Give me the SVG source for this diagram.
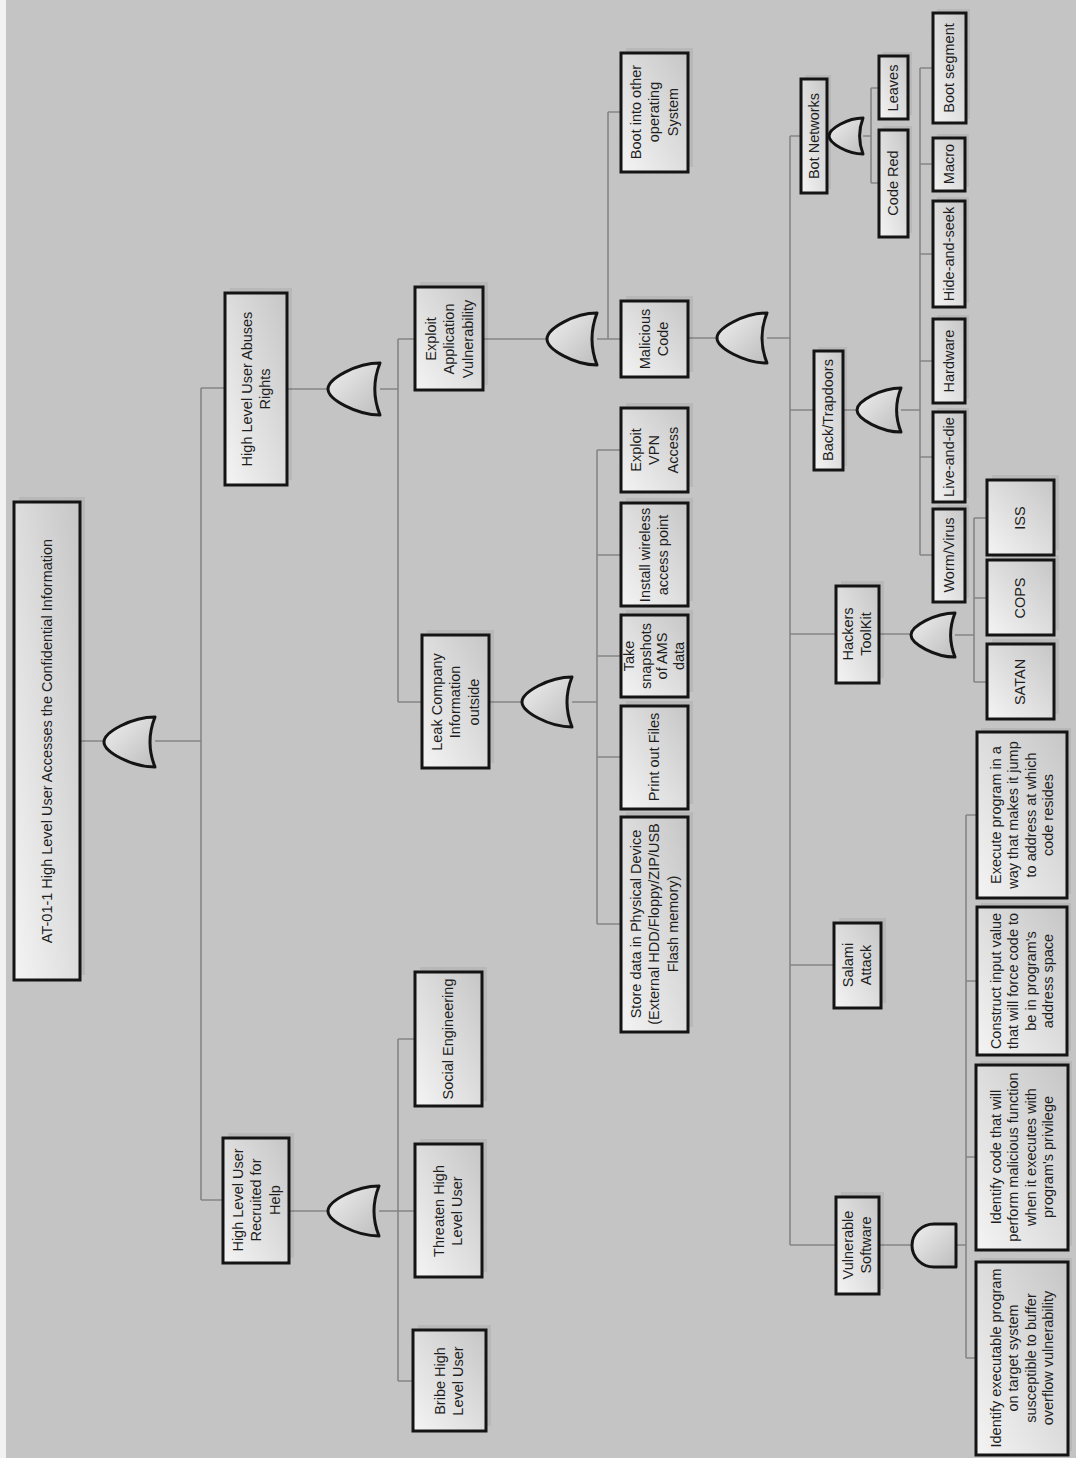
<svg xmlns="http://www.w3.org/2000/svg" width="1076" height="1458" viewBox="0 0 1076 1458">
<defs>
<linearGradient id="bg" x1="0" y1="1" x2="1" y2="0">
<stop offset="0" stop-color="#f4f4f4"/>
<stop offset="1" stop-color="#c6c6c6"/>
</linearGradient>
<linearGradient id="gg" x1="0" y1="0" x2="1" y2="1">
<stop offset="0" stop-color="#f0f0f0"/>
<stop offset="1" stop-color="#bdbdbd"/>
</linearGradient>
</defs>
<style>
.box{fill:url(#bg);stroke:#141414;stroke-width:3}
.sh{fill:#000;opacity:0.06}
.gate{fill:url(#gg);stroke:#141414;stroke-width:3;stroke-linejoin:round}
.c{fill:none;stroke:#858585;stroke-width:1.6}
.t{font-family:"Liberation Sans",Arial,sans-serif;font-size:14.5px;fill:#1e1e1e;text-anchor:middle}
</style>
<rect x="0" y="0" width="1076" height="1458" fill="#c4c4c4"/>
<rect x="0" y="0" width="6" height="1458" fill="#f2f2f2"/>

<g id="connectors">
<path class="c" d="M80,741H104M155,741H201M201,388V1200M201,388H225M201,1200H223"/>
<path class="c" d="M287,389H328M380,389H398M398,339V702M398,339H415M398,702H422"/>
<path class="c" d="M289,1211H328M379,1211H398M398,1039V1381M398,1039H415M398,1211H415M398,1381H413"/>
<path class="c" d="M483,339H547M597,339H608M608,112V339M608,112H621M608,339H621"/>
<path class="c" d="M489,702H522M572,702H597M597,450V924M597,450H621M597,555H621M597,656H621M597,757H621M597,924H621"/>
<path class="c" d="M688,338H717M767,338H790M790,136V1245M790,136H801M790,410H814M790,634H836M790,965H834M790,1245H836"/>
<path class="c" d="M863,136H871M871,88V183M871,88H879M871,183H879"/>
<path class="c" d="M843,410H857M901,410H920M920,68V555M920,68H933M920,164H933M920,254H933M920,361H933M920,457H933M920,555H933"/>
<path class="c" d="M879,634H911M955,635H974M974,518V682M974,518H987M974,598H987M974,682H987"/>
<path class="c" d="M879,1245H912M956,1245H966M966,815V1358M966,815H977M966,981H977M966,1157H976M966,1358H976"/>
</g>

<g id="gates">
<path class="gate" d="M155,717 C132,717 104,732 104,742 C104,752 132,767 155,767 Q145,742 155,717 Z"/>
<path class="gate" d="M380,363 C356.6,363 328,378.6 328,389 C328,399.4 356.6,415 380,415 Q369.6,389 380,363 Z"/>
<path class="gate" d="M379,1186 C356,1186 328,1201 328,1211 C328,1221 356,1236 379,1236 Q369,1211 379,1186 Z"/>
<path class="gate" d="M597,313 C574.5,313 547,328.6 547,339 C547,349.4 574.5,365 597,365 Q587,339 597,313 Z"/>
<path class="gate" d="M572,677 C549.5,677 522,692 522,702 C522,712 549.5,727 572,727 Q562,702 572,677 Z"/>
<path class="gate" d="M767,313 C744.5,313 717,328 717,338 C717,348 744.5,363 767,363 Q757,338 767,313 Z"/>
<path class="gate" d="M863,118 C847.7,118 829,128.8 829,136 C829,143.2 847.7,154 863,154 Q856.2,136 863,118 Z"/>
<path class="gate" d="M901,388 C881.2,388 857,401.2 857,410 C857,418.8 881.2,432 901,432 Q892.2,410 901,388 Z"/>
<path class="gate" d="M955,613 C935.2,613 911,626.2 911,635 C911,643.8 935.2,657 955,657 Q946.2,635 955,613 Z"/>
<path class="gate" d="M956,1224 L934,1224 A22,21.5 0 0 0 934,1267 L956,1267 Z"/>
</g>

<g id="n-root"><rect class="sh" x="19" y="497" width="66" height="478"/><rect class="box" x="14" y="502" width="66" height="478"/>
<text class="t" transform="translate(47,741) rotate(-90)"><tspan x="0" y="5">AT-01-1 High Level User Accesses the Confidential Information</tspan></text></g>

<g id="n-abuses"><rect class="sh" x="230" y="288" width="62" height="192"/><rect class="box" x="225" y="293" width="62" height="192"/>
<text class="t" transform="translate(256,389) rotate(-90)"><tspan x="0" y="-4.25">High Level User Abuses</tspan><tspan x="0" y="14.25">Rights</tspan></text></g>

<g id="n-recruited"><rect class="sh" x="228" y="1133" width="66" height="125"/><rect class="box" x="223" y="1138" width="66" height="125"/>
<text class="t" transform="translate(256,1200) rotate(-90)"><tspan x="0" y="-13.5">High Level User</tspan><tspan x="0" y="5">Recruited for</tspan><tspan x="0" y="23.5">Help</tspan></text></g>

<g id="n-exploitapp"><rect class="sh" x="420" y="282" width="68" height="103"/><rect class="box" x="415" y="287" width="68" height="103"/>
<text class="t" transform="translate(449,339) rotate(-90)"><tspan x="0" y="-13.5">Exploit</tspan><tspan x="0" y="5">Application</tspan><tspan x="0" y="23.5">Vulnerability</tspan></text></g>

<g id="n-leak"><rect class="sh" x="427" y="630" width="67" height="133"/><rect class="box" x="422" y="635" width="67" height="133"/>
<text class="t" transform="translate(455,702) rotate(-90)"><tspan x="0" y="-13.5">Leak Company</tspan><tspan x="0" y="5">Information</tspan><tspan x="0" y="23.5">outside</tspan></text></g>

<g id="n-social"><rect class="sh" x="420" y="967" width="67" height="134"/><rect class="box" x="415" y="972" width="67" height="134"/>
<text class="t" transform="translate(448,1039) rotate(-90)"><tspan x="0" y="5">Social Engineering</tspan></text></g>

<g id="n-threaten"><rect class="sh" x="420" y="1139" width="67" height="133"/><rect class="box" x="415" y="1144" width="67" height="133"/>
<text class="t" transform="translate(448,1211) rotate(-90)"><tspan x="0" y="-4.25">Threaten High</tspan><tspan x="0" y="14.25">Level User</tspan></text></g>

<g id="n-bribe"><rect class="sh" x="418" y="1325" width="73" height="101"/><rect class="box" x="413" y="1330" width="73" height="101"/>
<text class="t" transform="translate(449,1381) rotate(-90)"><tspan x="0" y="-4.25">Bribe High</tspan><tspan x="0" y="14.25">Level User</tspan></text></g>

<g id="n-bootos"><rect class="sh" x="626" y="48" width="67" height="119"/><rect class="box" x="621" y="53" width="67" height="119"/>
<text class="t" transform="translate(654,112) rotate(-90)"><tspan x="0" y="-13.5">Boot into other</tspan><tspan x="0" y="5">operating</tspan><tspan x="0" y="23.5">System</tspan></text></g>

<g id="n-malicious"><rect class="sh" x="626" y="296" width="67" height="76"/><rect class="box" x="621" y="301" width="67" height="76"/>
<text class="t" transform="translate(654,339) rotate(-90)"><tspan x="0" y="-4.25">Malicious</tspan><tspan x="0" y="14.25">Code</tspan></text></g>

<g id="n-vpn"><rect class="sh" x="626" y="403" width="67" height="84"/><rect class="box" x="621" y="408" width="67" height="84"/>
<text class="t" transform="translate(654,450) rotate(-90)"><tspan x="0" y="-13.5">Exploit</tspan><tspan x="0" y="5">VPN</tspan><tspan x="0" y="23.5">Access</tspan></text></g>

<g id="n-wireless"><rect class="sh" x="626" y="498" width="67" height="103"/><rect class="box" x="621" y="503" width="67" height="103"/>
<text class="t" transform="translate(654,555) rotate(-90)"><tspan x="0" y="-4.25">Install wireless</tspan><tspan x="0" y="14.25">access point</tspan></text></g>

<g id="n-snapshots"><rect class="sh" x="626" y="610" width="67" height="82"/><rect class="box" x="621" y="615" width="67" height="82"/>
<text class="t" transform="translate(654,656) rotate(-90)"><tspan x="0" y="-19.75">Take</tspan><tspan x="0" y="-3.25">snapshots</tspan><tspan x="0" y="13.25">of AMS</tspan><tspan x="0" y="29.75">data</tspan></text></g>

<g id="n-print"><rect class="sh" x="626" y="701" width="67" height="103"/><rect class="box" x="621" y="706" width="67" height="103"/>
<text class="t" transform="translate(654,757) rotate(-90)"><tspan x="0" y="5">Print out Files</tspan></text></g>

<g id="n-store"><rect class="sh" x="626" y="812" width="67" height="215"/><rect class="box" x="621" y="817" width="67" height="215"/>
<text class="t" transform="translate(654,924) rotate(-90)"><tspan x="0" y="-13.5">Store data in Physical Device</tspan><tspan x="0" y="5">(External HDD/Floppy/ZIP/USB</tspan><tspan x="0" y="23.5">Flash memory)</tspan></text></g>

<g id="n-botnet"><rect class="sh" x="805" y="75" width="26" height="114"/><rect class="box" x="801" y="79" width="26" height="114"/>
<text class="t" transform="translate(814,136) rotate(-90)"><tspan x="0" y="5">Bot Networks</tspan></text></g>

<g id="n-backtrap"><rect class="sh" x="818" y="347" width="29" height="119"/><rect class="box" x="814" y="351" width="29" height="119"/>
<text class="t" transform="translate(828,410) rotate(-90)"><tspan x="0" y="5">Back/Trapdoors</tspan></text></g>

<g id="n-hackers"><rect class="sh" x="841" y="581" width="43" height="97"/><rect class="box" x="836" y="586" width="43" height="97"/>
<text class="t" transform="translate(857,634) rotate(-90)"><tspan x="0" y="-4.25">Hackers</tspan><tspan x="0" y="14.25">ToolKit</tspan></text></g>

<g id="n-salami"><rect class="sh" x="839" y="918" width="47" height="85"/><rect class="box" x="834" y="923" width="47" height="85"/>
<text class="t" transform="translate(857,965) rotate(-90)"><tspan x="0" y="-4.25">Salami</tspan><tspan x="0" y="14.25">Attack</tspan></text></g>

<g id="n-vulnerable"><rect class="sh" x="841" y="1192" width="43" height="97"/><rect class="box" x="836" y="1197" width="43" height="97"/>
<text class="t" transform="translate(857,1245) rotate(-90)"><tspan x="0" y="-4.25">Vulnerable</tspan><tspan x="0" y="14.25">Software</tspan></text></g>

<g id="n-leaves"><rect class="sh" x="883" y="52" width="29" height="63"/><rect class="box" x="879" y="56" width="29" height="63"/>
<text class="t" transform="translate(893,88) rotate(-90)"><tspan x="0" y="5">Leaves</tspan></text></g>

<g id="n-codered"><rect class="sh" x="883" y="126" width="29" height="107"/><rect class="box" x="879" y="130" width="29" height="107"/>
<text class="t" transform="translate(893,183) rotate(-90)"><tspan x="0" y="5">Code Red</tspan></text></g>

<g id="n-bootseg"><rect class="sh" x="937" y="9" width="33" height="110"/><rect class="box" x="933" y="13" width="33" height="110"/>
<text class="t" transform="translate(949,68) rotate(-90)"><tspan x="0" y="5">Boot segment</tspan></text></g>

<g id="n-macro"><rect class="sh" x="937" y="134" width="32" height="53"/><rect class="box" x="933" y="138" width="32" height="53"/>
<text class="t" transform="translate(949,164) rotate(-90)"><tspan x="0" y="5">Macro</tspan></text></g>

<g id="n-hide"><rect class="sh" x="937" y="197" width="32" height="106"/><rect class="box" x="933" y="201" width="32" height="106"/>
<text class="t" transform="translate(949,254) rotate(-90)"><tspan x="0" y="5">Hide-and-seek</tspan></text></g>

<g id="n-hardware"><rect class="sh" x="937" y="315" width="32" height="84"/><rect class="box" x="933" y="319" width="32" height="84"/>
<text class="t" transform="translate(949,361) rotate(-90)"><tspan x="0" y="5">Hardware</tspan></text></g>

<g id="n-live"><rect class="sh" x="937" y="408" width="32" height="90"/><rect class="box" x="933" y="412" width="32" height="90"/>
<text class="t" transform="translate(949,457) rotate(-90)"><tspan x="0" y="5">Live-and-die</tspan></text></g>

<g id="n-worm"><rect class="sh" x="937" y="505" width="32" height="93"/><rect class="box" x="933" y="509" width="32" height="93"/>
<text class="t" transform="translate(949,555) rotate(-90)"><tspan x="0" y="5">Worm/Virus</tspan></text></g>

<g id="n-iss"><rect class="sh" x="992" y="475" width="67" height="75"/><rect class="box" x="987" y="480" width="67" height="75"/>
<text class="t" transform="translate(1020,518) rotate(-90)"><tspan x="0" y="5">ISS</tspan></text></g>

<g id="n-cops"><rect class="sh" x="992" y="555" width="67" height="75"/><rect class="box" x="987" y="560" width="67" height="75"/>
<text class="t" transform="translate(1020,598) rotate(-90)"><tspan x="0" y="5">COPS</tspan></text></g>

<g id="n-satan"><rect class="sh" x="992" y="639" width="67" height="75"/><rect class="box" x="987" y="644" width="67" height="75"/>
<text class="t" transform="translate(1020,682) rotate(-90)"><tspan x="0" y="5">SATAN</tspan></text></g>

<g id="n-execute"><rect class="sh" x="981" y="728" width="90" height="166"/><rect class="box" x="977" y="732" width="90" height="166"/>
<text class="t" transform="translate(1022,815) rotate(-90)"><tspan x="0" y="-21.25">Execute program in a</tspan><tspan x="0" y="-3.75">way that makes it jump</tspan><tspan x="0" y="13.75">to address at which</tspan><tspan x="0" y="31.25">code resides</tspan></text></g>

<g id="n-construct"><rect class="sh" x="981" y="903" width="90" height="148"/><rect class="box" x="977" y="907" width="90" height="148"/>
<text class="t" transform="translate(1022,981) rotate(-90)"><tspan x="0" y="-21.25">Construct input value</tspan><tspan x="0" y="-3.75">that will force code to</tspan><tspan x="0" y="13.75">be in program's</tspan><tspan x="0" y="31.25">address space</tspan></text></g>

<g id="n-identcode"><rect class="sh" x="980" y="1061" width="92" height="185"/><rect class="box" x="976" y="1065" width="92" height="185"/>
<text class="t" transform="translate(1022,1157) rotate(-90)"><tspan x="0" y="-21.25">Identify code that will</tspan><tspan x="0" y="-3.75">perform malicious function</tspan><tspan x="0" y="13.75">when it executes with</tspan><tspan x="0" y="31.25">program's privilege</tspan></text></g>

<g id="n-identexec"><rect class="sh" x="980" y="1258" width="92" height="193"/><rect class="box" x="976" y="1262" width="92" height="193"/>
<text class="t" transform="translate(1022,1358) rotate(-90)"><tspan x="0" y="-21.25">Identify executable program</tspan><tspan x="0" y="-3.75">on target system</tspan><tspan x="0" y="13.75">susceptible to buffer</tspan><tspan x="0" y="31.25">overflow vulnerability</tspan></text></g>
</svg>
